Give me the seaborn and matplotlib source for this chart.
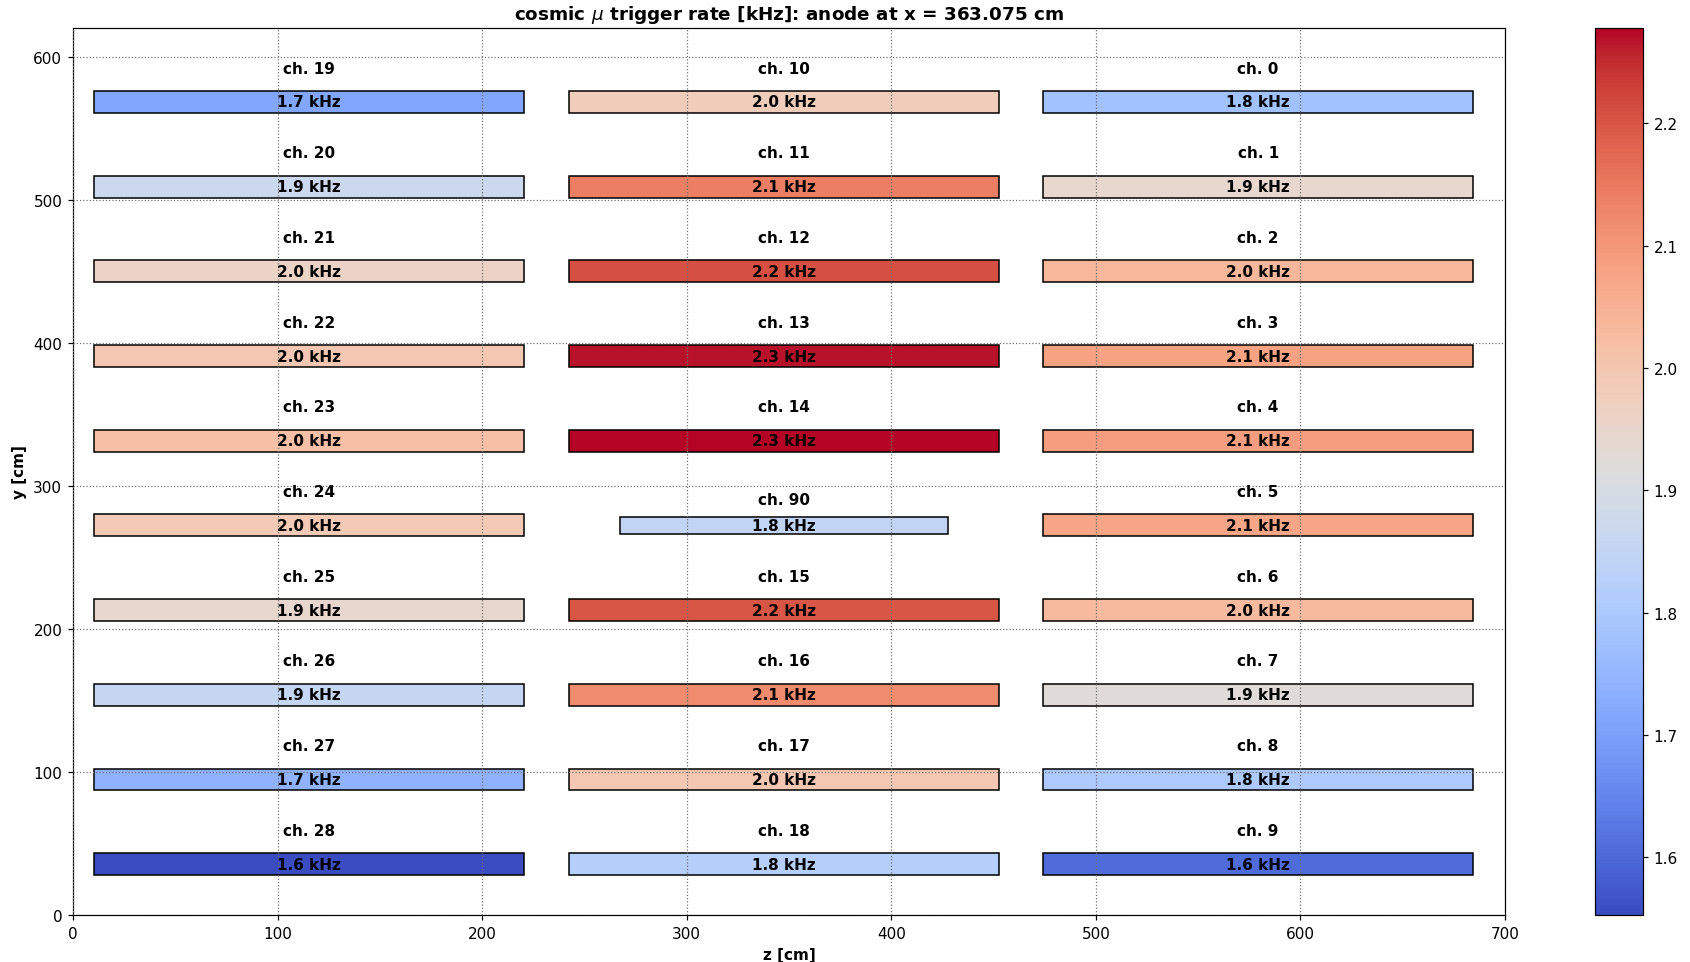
import matplotlib
matplotlib.use("Agg")
import matplotlib.pyplot as plt
import seaborn as sns
from matplotlib.colors import Normalize
from matplotlib.cm import ScalarMappable

# PMT channel layout on the anode plane, one column per z range
left_channels = [19, 20, 21, 22, 23, 24, 25, 26, 27, 28]
middle_channels = [10, 11, 12, 13, 14, 90, 15, 16, 17, 18]
right_channels = [0, 1, 2, 3, 4, 5, 6, 7, 8, 9]

# trigger rates [kHz], same order as the channel lists
left_rates = [1.712, 1.870, 1.960, 2.000, 2.020, 1.990, 1.945, 1.855, 1.742, 1.553]
middle_rates = [1.980, 2.140, 2.210, 2.268, 2.278, 1.845, 2.200, 2.120, 2.000, 1.822]
right_rates = [1.778, 1.945, 2.040, 2.080, 2.090, 2.075, 2.030, 1.925, 1.800, 1.605]

# detector geometry [cm]
column_z = [(10.1, 220.6), (242.4, 452.5), (474.2, 684.5)]
short_z = (267.2, 427.6)           # channel 90 is a shorter module
row_y = [568.3, 509.1, 449.9, 390.7, 331.5, 272.3, 213.1, 153.9, 94.7, 35.5]
module_height = 15.3
short_height = 11.7

channels, rates, z_lo, z_hi, y_mid, heights = [], [], [], [], [], []
for (zl, zh), chans, vals in zip(column_z,
                                 [left_channels, middle_channels, right_channels],
                                 [left_rates, middle_rates, right_rates]):
    for ch, r, y in zip(chans, vals, row_y):
        short = ch == 90
        channels.append(ch)
        rates.append(r)
        z_lo.append(short_z[0] if short else zl)
        z_hi.append(short_z[1] if short else zh)
        y_mid.append(y)
        heights.append(short_height if short else module_height)

cmap = sns.color_palette("coolwarm", as_cmap=True)
norm = Normalize(vmin=min(rates), vmax=max(rates))

fig = plt.figure(figsize=(1690 / 110, 963 / 110), dpi=110)
ax = fig.add_axes([73 / 1690, 47 / 963, 1432 / 1690, 887 / 963])
cax = fig.add_axes([1595 / 1690, 47 / 963, 48 / 1690, 887 / 963])

widths = [b - a for a, b in zip(z_lo, z_hi)]
ax.barh(y_mid, widths, left=z_lo, height=heights,
        color=[cmap(norm(r)) for r in rates],
        edgecolor="black", linewidth=1.0, zorder=1)

for ch, r, a, b, y, h in zip(channels, rates, z_lo, z_hi, y_mid, heights):
    zc = 0.5 * (a + b)
    ax.text(zc, y, f"{r:.1f} kHz", ha="center", va="center",
            fontsize=10, fontweight="bold", zorder=4)
    ax.text(zc, y + 1.55 * h, f"ch. {ch}", ha="center", va="center",
            fontsize=10, fontweight="bold", zorder=4)

ax.set_xlim(0, 700)
ax.set_ylim(0, 620)
ax.set_axisbelow(False)
ax.grid(True, linestyle=":", color="#707070", linewidth=0.8)
ax.set_xlabel("z [cm]", fontweight="bold")
ax.set_ylabel("y [cm]", fontweight="bold")
ax.set_title(r"cosmic $\mu$ trigger rate [kHz]: anode at x = 363.075 cm",
             fontweight="bold")

cb = fig.colorbar(ScalarMappable(norm=norm, cmap=cmap), cax=cax)
cb.outline.set_edgecolor("black")

fig.savefig("out.png", dpi=110)
